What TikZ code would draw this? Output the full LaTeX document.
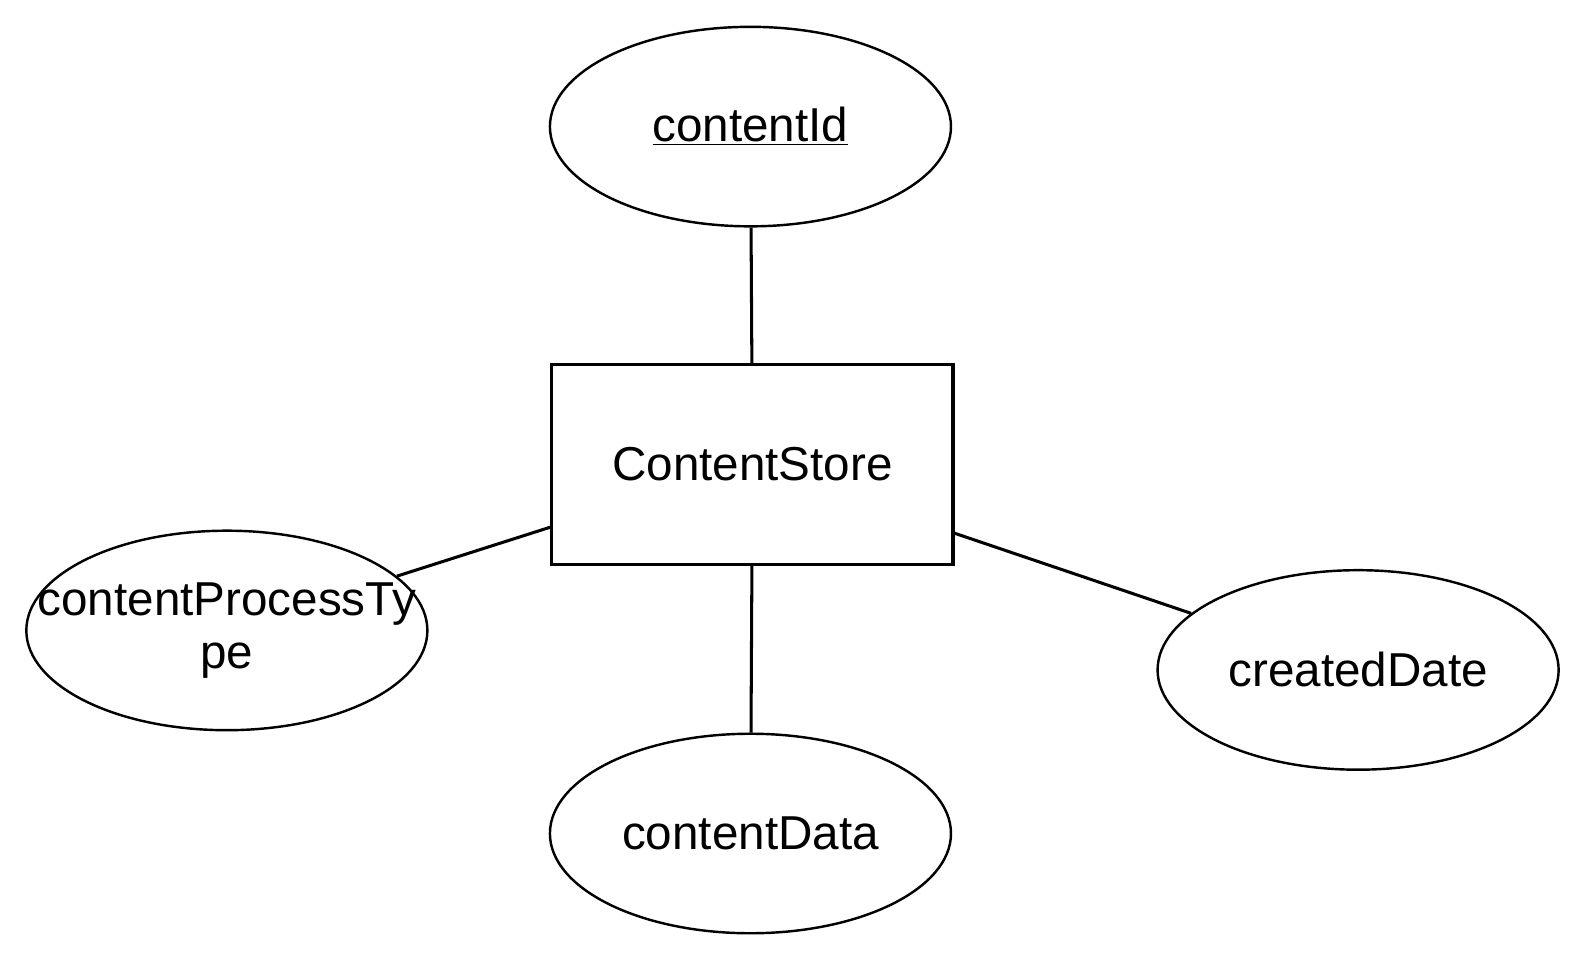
\documentclass[tikz,border=0pt]{standalone}
\usepackage{fontspec}
\setmainfont{Liberation Sans}
\usepackage{tikz}
\usetikzlibrary{shapes.geometric, calc}
\tikzstyle{link} = [line width=1.5pt]

\begin{document}
\begin{tikzpicture}[x=0.5pt, y=-0.5pt,
    entity/.style={rectangle, draw, line width=1.5pt, minimum width=198pt, minimum height=98.5pt, inner sep=0pt, font=\fontsize{23.5}{28}\selectfont},
    attr/.style={ellipse, draw, line width=1.2pt, minimum width=198pt, minimum height=98.5pt, inner sep=0pt, align=center, font=\fontsize{23.5}{26}\selectfont}]
\useasboundingbox (0, 0) rectangle (1568, 952);

\node[entity] (store) at (743, 458.5) {ContentStore};

\node[attr] (cid) at (741, 125) {\underline{contentId}};
\node[attr] (ptype) at (224, 622.5) {\makebox[0pt]{contentProcessTy}\\\makebox[0pt]{pe}};
\node[attr] (cdate) at (1341, 661.5) {createdDate};
\node[attr] (cdata) at (741, 823) {contentData};

\draw[link] (cid) -- (store);
\draw[link] (cdata) -- (store);
\draw[link] (ptype) -- ($(store.south west)!0.19!(store.north west)$);
\draw[link] (cdate) -- ($(store.south east)!0.16!(store.north east)$);
\end{tikzpicture}
\end{document}
